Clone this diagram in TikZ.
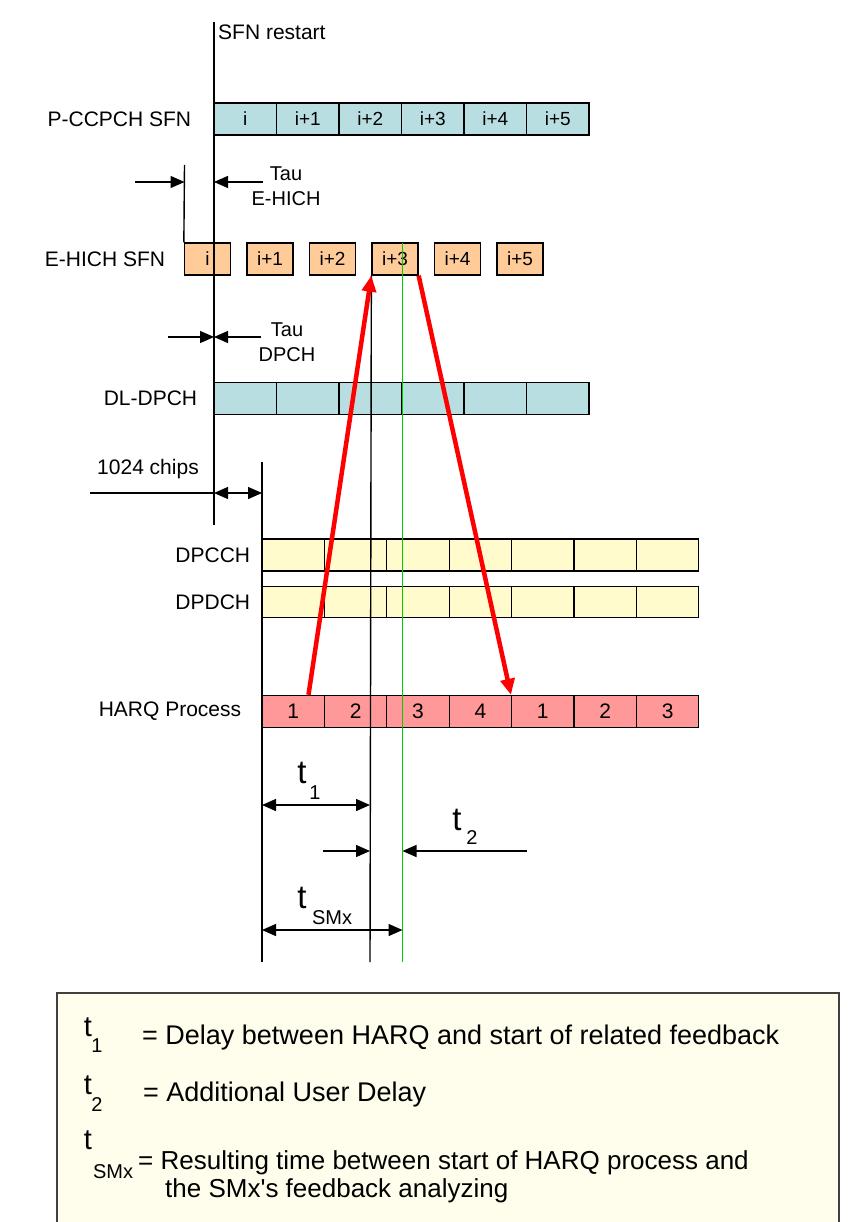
\documentclass[tikz,border=0pt]{standalone}
\usepackage{fontspec}
\setmainfont{Liberation Sans}
\usetikzlibrary{positioning,arrows.meta,calc}
\definecolor{sfncyan}{RGB}{185,222,226}
\definecolor{hichorange}{RGB}{255,204,153}
\definecolor{ulyellow}{RGB}{255,251,204}
\definecolor{harqred}{RGB}{255,153,153}
\definecolor{legendbg}{RGB}{255,253,236}
\definecolor{markgreen}{RGB}{0,204,0}

\begin{document}
\begin{tikzpicture}[
  x=1pt,
  y=-1pt,
  cell/.style={
    draw=black,
    line width=1.3pt,
    inner sep=0pt,
    minimum height=32pt,
    font=\fontsize{19}{22}\selectfont
  },
  chname/.style={anchor=east,inner sep=0pt,font=\fontsize{21}{24}\selectfont},
  note/.style={inner sep=0pt,align=center,font=\fontsize{20}{25}\selectfont},
  timeline/.style={draw=black,line width=1.4pt},
  dim/.style={draw=black,line width=1.4pt,-{Triangle[length=14pt,width=12pt]}},
  dimboth/.style={dim,{Triangle[length=14pt,width=12pt]}-{Triangle[length=14pt,width=12pt]}},
  feedback/.style={draw=red,line width=4.5pt,-{Triangle[length=16pt,width=14pt]}},
  bigt/.style={inner sep=0pt,font=\fontsize{33}{33}\selectfont},
  legt/.style={inner sep=0pt,font=\fontsize{29}{29}\selectfont},
  subt/.style={inner sep=0pt,font=\fontsize{20}{20}\selectfont},
  legtext/.style={anchor=west,inner sep=0pt,font=\fontsize{27}{27}\selectfont}
]
  \useasboundingbox (0,0) rectangle (862,1222);

  % downlink frames
  \foreach \lab [count=\k from 0] in {i,i+1,i+2,i+3,i+4,i+5} {
    \node[cell,fill=sfncyan,minimum width=62.5pt] (pc\k) at (245.25+62.5*\k,119) {\lab};
    \node[cell,fill=hichorange,minimum width=46pt] (eh\k) at (207.5+62.5*\k,259) {\lab};
    \node[cell,fill=sfncyan,minimum width=62.5pt] (dl\k) at (245.25+62.5*\k,398.5) {};
  }

  % uplink frames
  \foreach \lab [count=\k from 0] in {1,2,3,4,1,2,3} {
    \node[cell,fill=ulyellow,minimum width=62.4pt] (cc\k) at (293.2+62.4*\k,555) {};
    \node[cell,fill=ulyellow,minimum width=62.4pt,minimum height=31pt] (dd\k) at (293.2+62.4*\k,602) {};
    \node[cell,fill=harqred,minimum width=62.4pt,font=\fontsize{21}{24}\selectfont] (hq\k) at (293.2+62.4*\k,711.5) {\lab};
  }

  \node[chname,left=22pt of pc0] (pcname) {P-CCPCH SFN};
  \node[chname,left=18.5pt of eh0] (ehname) {E-HICH SFN};
  \node[chname,left=16pt of dl0] (dlname) {DL-DPCH};
  \node[chname,left=11pt of cc0] (ccname) {DPCCH};
  \node[chname,left=11pt of dd0] (ddname) {DPDCH};
  \node[chname,left=20pt of hq0] (hqname) {HARQ Process};

  \coordinate (sfntop) at (214,22);
  \coordinate (sfnbot) at (214,525);
  \coordinate (ticktop) at (184.5,165);
  \coordinate (ultop) at (262,462);
  \coordinate (ulbot) at (262,962);
  \coordinate (t1bot) at (370,962);
  \coordinate (greentop) at (402.5,243);
  \coordinate (greenbot) at (402.5,962);

  \node[chname,anchor=west] (restart) at (218,32) {SFN restart};

  % time references
  \draw[timeline] (sfntop) -- (sfnbot);
  \draw[timeline] (ticktop) -- (eh0.north west);
  \draw[timeline] (ultop) -- (ulbot);
  \draw[timeline] (eh3.south west) -- (t1bot);

  % Tau E-HICH
  \coordinate (tauhichA) at (135,182);
  \coordinate (tauhichB) at (263,182);
  \draw[dim] (tauhichA) -- (tauhichA -| ticktop);
  \draw[dim] (tauhichB) -- (tauhichB -| sfntop);
  \node[note] (tauhich) at (286,186) {Tau\\E-HICH};

  % Tau DPCH
  \coordinate (taudpchA) at (168,337);
  \coordinate (taudpchB) at (261,337);
  \draw[dim] (taudpchA) -- (taudpchA -| sfntop);
  \draw[dim] (taudpchB) -- (taudpchB -| sfntop);
  \node[note] (taudpch) at (287,342) {Tau\\DPCH};

  % 1024 chips
  \coordinate (chipsA) at (90,493);
  \draw[timeline] (chipsA) -- (chipsA -| sfntop);
  \draw[dimboth] (chipsA -| sfntop) -- (chipsA -| ultop);
  \node[chname] (chips) at (199,469) {1024 chips};

  % feedback arrows
  \coordinate (fbstart) at ($(hq0.north west)!0.74!(hq0.north east)$);
  \draw[feedback] (fbstart) -- (eh3.south west);
  \draw[feedback] (eh3.south east) -- (hq4.north west);

  \draw[draw=markgreen,line width=1.4pt] (greentop) -- (greenbot);

  % delays
  \coordinate (t1row) at (0,805);
  \coordinate (t2row) at (0,851);
  \coordinate (tsrow) at (0,930);
  \draw[dimboth] (t1row -| ulbot) -- (t1row -| t1bot);
  \draw[dim] (323,851) coordinate (t2A) -- (t2row -| t1bot);
  \draw[dim] (527,851) coordinate (t2B) -- (t2row -| greenbot);
  \draw[dimboth] (tsrow -| ulbot) -- (tsrow -| greenbot);

  \node[bigt] (t1) at (302,773) {t};
  \node[subt] (t1sub) at (315,793) {1};
  \node[bigt] (t2) at (457,820) {t};
  \node[subt] (t2sub) at (472,838) {2};
  \node[bigt] (ts) at (302,898) {t};
  \node[subt] (tssub) at (332,918) {SMx};

  % legend
  \fill[legendbg] (57,993) rectangle (839,1222);
  \draw[draw=black!75,line width=1.5pt] (57,1222) |- (839,993) -- (839,1222);

  \node[legt] (lt1) at (88,1027) {t};
  \node[subt] (lt1sub) at (97,1046) {1};
  \node[legtext] (leg1) at (142,1038) {= Delay between HARQ and start of related feedback};
  \node[legt] (lt2) at (88,1085) {t};
  \node[subt] (lt2sub) at (97,1105) {2};
  \node[legtext] (leg2) at (143,1095) {= Additional User Delay};
  \node[legt] (lts) at (88,1140) {t};
  \node[subt] (ltssub) at (113,1172) {SMx};
  \node[legtext,font=\fontsize{26}{26}\selectfont] (leg3) at (138,1163) {= Resulting time between start of HARQ process and};
  \node[legtext,font=\fontsize{26}{26}\selectfont] (leg3b) at (165,1191) {the SMx\textquotesingle s feedback analyzing};
\end{tikzpicture}
\end{document}
